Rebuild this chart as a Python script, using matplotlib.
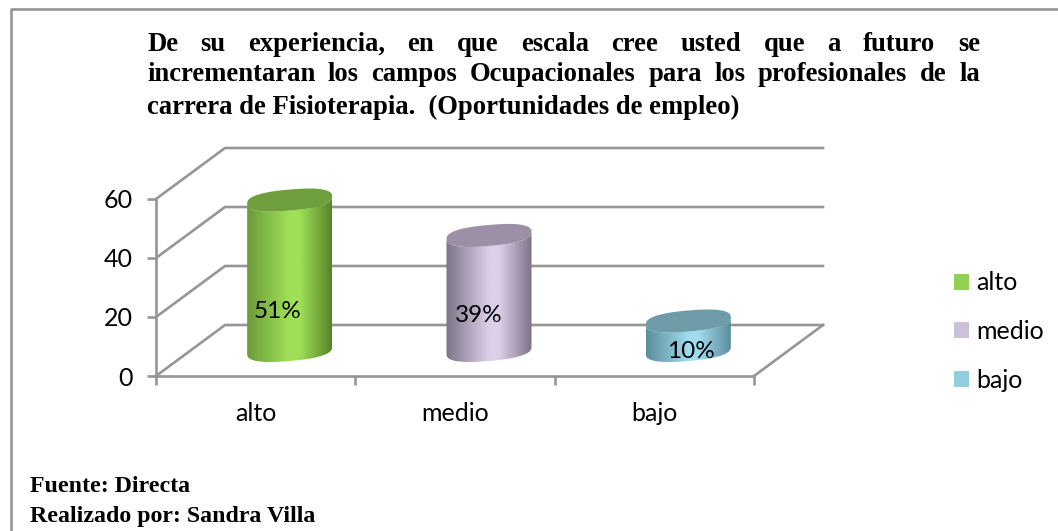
import numpy as np
import matplotlib
matplotlib.use('Agg')
import matplotlib.pyplot as plt
from matplotlib.patches import Patch, PathPatch, Polygon
from matplotlib.path import Path
from matplotlib.colors import LinearSegmentedColormap

# datos
categorias = ['alto', 'medio', 'bajo']
valores = [51, 39, 10]
etiquetas = ['51%', '39%', '10%']
yticks = [0, 20, 40, 60]
titulo = [
    'De su experiencia, en que escala cree usted que a futuro se',
    'incrementaran los campos Ocupacionales para los profesionales de la',
]
titulo_ultima = 'carrera de Fisioterapia.  (Oportunidades de empleo)'
fuente = ['Fuente: Directa', 'Realizado por: Sandra Villa']

# colores: borde izq, centro claro, borde der, tapa, leyenda
colores = [
    ('#6b9c3a', '#9fe058', '#568429', '#6f9f3c', '#92d050'),
    ('#7d7488', '#dccfe8', '#7d7488', '#9b90a6', '#ccc1da'),
    ('#5c8d9c', '#9fdcee', '#5c8d9c', '#6f9aa8', '#93cddd'),
]
gris = '#969696'
letra = 18

W, H = 1058, 531
fig = plt.figure(figsize=(W / 100, H / 100), dpi=100)

# ejes del plano frontal del grafico, en pixeles de la imagen
x0, x1, y0, y1 = 156, 754, 376, 199
ax = fig.add_axes([x0 / W, 1 - y0 / H, (x1 - x0) / W, (y0 - y1) / H])
ax.set_xlim(0, 3)
ax.set_ylim(0, 60)
ax.patch.set_alpha(0)
for s in ax.spines.values():
    s.set_visible(False)

ux = (x1 - x0) / 3.0  # pixeles por categoria
uy = (y0 - y1) / 60.0  # pixeles por unidad
prof_x = 69 / ux  # profundidad de la caja
prof_y = 51 / uy

# paredes y rejilla
for v in yticks:
    ax.plot([0, prof_x, 3 + prof_x], [v, v + prof_y, v + prof_y], color=gris, lw=1.9,
            clip_on=False, zorder=1, solid_joinstyle='miter')
ax.plot([0, 3], [0, 0], color=gris, lw=1.9, clip_on=False, zorder=1)
ax.plot([0, 0], [0, 60], color=gris, lw=1.9, clip_on=False, zorder=1)
ax.plot([3, 3 + prof_x], [0, prof_y], color=gris, lw=1.9, clip_on=False, zorder=1)

ax.set_xticks([0, 1, 2, 3])
ax.set_xticklabels([])
ax.set_yticks(yticks)
ax.set_yticklabels([str(v) for v in yticks], fontsize=letra, family='Lato', color='black')
ax.tick_params(axis='both', color=gris, width=1.9, length=6.2)
ax.tick_params(axis='y', pad=10.5)
for i, c in enumerate(categorias):
    ax.annotate(c, (i + 0.5, 0), xytext=(0, -27), textcoords='offset points', ha='center',
                va='center', fontsize=letra, family='Lato', annotation_clip=False)

# cilindros
semi_a = 42.5 / ux
semi_b = 10.5 / uy
sesgo = 3.6 / uy
base_y = 25.5 / uy
t = np.linspace(0, 2 * np.pi, 181)


def elipse(cx, cy):
    # algo mas cuadrada que una elipse, como en el original
    c, s = np.cos(t), np.sin(t)
    c2 = np.sign(c) * np.abs(c) ** 0.8
    s2 = np.sign(s) * np.abs(s) ** 0.8
    return cx + semi_a * c2, cy + semi_b * s2 + sesgo * c2


for i, v in enumerate(valores):
    cx = i + 0.5 + 34 / ux
    izq_c, claro, der_c, tapa, _ = colores[i]
    ex_b, ey_b = elipse(cx, base_y)
    ex_t, ey_t = elipse(cx, base_y + v)
    # cuerpo: mitad inferior de la base y mitad inferior de la tapa
    abajo = t >= np.pi
    xs = np.concatenate([ex_b[abajo], ex_t[abajo][::-1]])
    ys = np.concatenate([ey_b[abajo], ey_t[abajo][::-1]])
    cmap = LinearSegmentedColormap.from_list('c', [(0, izq_c), (0.5, claro), (0.62, claro), (1, der_c)])
    img = ax.imshow(np.linspace(0, 1, 200).reshape(1, -1), extent=[cx - semi_a, cx + semi_a, 0, 60],
                    aspect='auto', cmap=cmap, zorder=3)
    clip = PathPatch(Path(np.column_stack([xs, ys])), transform=ax.transData, fc='none', ec='none')
    ax.add_patch(clip)
    img.set_clip_path(clip)
    ax.add_patch(Polygon(np.column_stack([ex_t, ey_t]), closed=True, fc=tapa, ec='none', zorder=4,
                         clip_on=False))
ax.set_xlim(0, 3)
ax.set_ylim(0, 60)

# porcentajes
pos_etq = [(278, 311), (479, 315), (691, 351)]
for e, (px, py) in zip(etiquetas, pos_etq):
    fig.text(px / W, 1 - py / H, e, ha='center', va='center', fontsize=letra - 0.5, family='Lato',
             color='black', zorder=6)

# leyenda
handles = [Patch(fc=c[4], ec='none') for c in colores]
fig.legend(handles, categorias, loc='center left', bbox_to_anchor=(954 / W, 1 - 331.5 / H), frameon=False,
           prop={'family': 'Lato', 'size': letra}, handlelength=0.6, handleheight=0.6,
           handletextpad=0.28, labelspacing=1.02, borderpad=0, borderaxespad=0)

# marco
fig.add_artist(plt.Line2D([10.5 / W, 10.5 / W, 1], [0, 1 - 8.5 / H, 1 - 8.5 / H], color=gris, lw=1.9))

# titulo justificado
fig.canvas.draw()
rend = fig.canvas.get_renderer()
fp = dict(family='Liberation Serif', weight='bold', fontsize=19.2, va='baseline', color='black')


def ancho(s):
    tt = fig.text(0, 0, s, **fp)
    w = tt.get_window_extent(rend).width
    tt.remove()
    return w


izq, der = 147, 980
for linea, yb in zip(titulo, [51, 81]):
    palabras = linea.split(' ')
    anchos = [ancho(p) for p in palabras]
    hueco = (der - izq - sum(anchos)) / (len(palabras) - 1)
    px = izq
    for p, a in zip(palabras, anchos):
        fig.text(px / W, 1 - yb / H, p, **fp)
        px += a + hueco
fig.text(izq / W, 1 - 114 / H, titulo_ultima, **fp)

for linea, yb in zip(fuente, [492, 522]):
    fig.text(30 / W, 1 - yb / H, linea, family='Liberation Serif', weight='bold', fontsize=17.2,
             va='baseline', color='black')

fig.savefig('out.png', dpi=100)
